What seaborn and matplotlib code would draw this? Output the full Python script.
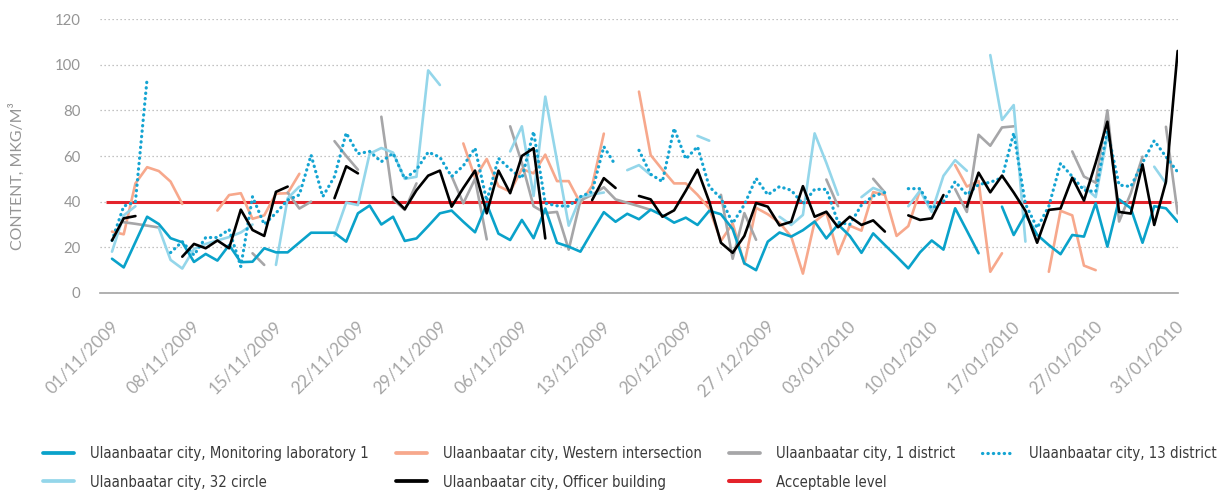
import numpy as np
import pandas as pd
import matplotlib
matplotlib.use("Agg")
import matplotlib.pyplot as plt
import matplotlib.transforms as mtransforms
from matplotlib.lines import Line2D
from matplotlib import font_manager
import seaborn as sns

nan = np.nan

# ---------------- data ----------------
days = pd.date_range("2009-11-01", "2010-01-31", freq="D")   # 92 daily categories
tick_labels = ["01/11/2009", "08/11/2009", "15/11/2009", "22/11/2009", "29/11/2009",
               "06/11/2009", "13/12/2009", "20/12/2009", "27 /12/2009", "03/01/2010",
               "10/01/2010", "17/01/2010", "27/01/2010", "31/01/2010"]
tick_step = 7

lab1 = [15.0, 11.2, 22.3, 33.4, 30.2, 24.0, 22.2, 13.6, 17.1, 14.2,
        21.0, 13.5, 13.7, 19.6, 17.8, 17.8, 22.1, 26.4, 26.4, 26.4,
        22.5, 34.9, 38.3, 30.0, 33.4, 22.8, 23.9, 29.3, 34.9, 36.1,
        31.2, 26.6, 39.0, 26.0, 23.2, 32.0, 24.0, 37.0, 22.0, 20.3,
        18.1, 26.9, 35.4, 31.2, 34.7, 32.3, 36.5, 34.0, 30.8, 33.0,
        29.8, 36.0, 34.5, 28.0, 13.0, 10.0, 22.5, 26.5, 24.7, 27.5,
        31.3, 23.9, 30.0, 25.0, 17.6, 26.1, 21.0, 16.0, 10.8, 17.8,
        23.0, 19.0, 37.1, 27.3, 17.4, nan, 37.8, 25.4, 34.5, 25.5,
        21.0, 17.0, 25.4, 24.7, 39.3, 20.3, 41.0, 37.1, 22.0, 38.0,
        37.1, 31.2]

western = [26.9, 25.7, 48.0, 55.1, 53.4, 48.8, 39.0, nan, nan, 36.1,
           42.9, 43.7, 32.5, 34.0, 43.5, 43.7, 52.2, nan, nan, nan,
           nan, nan, nan, nan, nan, nan, nan, nan, nan, nan,
           65.5, 50.5, 58.7, 46.8, 44.4, 54.3, 52.4, 60.6, 49.0, 49.0,
           39.3, 47.0, 69.8, nan, nan, 88.2, 60.4, 54.0, 48.0, 48.0,
           43.0, 37.0, 22.8, 30.5, 12.7, 37.3, 34.5, 30.8, 24.7, 8.5,
           31.2, 35.3, 17.0, 29.5, 27.3, 44.2, 43.0, 25.0, 29.3, 45.0,
           nan, nan, 56.0, 46.6, 49.0, 9.3, 17.4, nan, nan, nan,
           9.3, 36.0, 34.0, 12.0, 10.0, nan, nan, nan, nan, nan,
           nan, nan]

district1 = [nan, 31.0, 30.3, 29.5, 28.7, nan, nan, nan, nan, nan,
             nan, nan, 17.4, 12.3, nan, 44.0, 37.0, 40.0, nan, 66.5,
             60.0, 54.0, nan, 77.2, 41.0, 36.4, 48.0, nan, nan, 51.2,
             39.3, 50.0, 23.5, nan, 73.0, 57.0, 38.0, 35.0, 35.5, 19.0,
             40.5, 43.0, 46.3, 41.0, 39.5, 38.0, 36.4, nan, nan, nan,
             nan, nan, 43.0, 15.0, 35.0, 23.3, nan, nan, nan, nan,
             nan, 49.7, 38.0, nan, nan, 50.0, 44.0, nan, nan, nan,
             nan, nan, 45.5, 35.5, 69.3, 64.5, 72.5, 73.0, nan, nan,
             nan, nan, 62.0, 51.0, 48.3, 80.0, 31.3, 43.7, 59.7, nan,
             72.8, 34.9]

district13 = [23.0, 38.0, 40.0, 94.0, nan, 17.7, 22.5, 16.6, 24.3, 24.3,
              27.8, 11.6, 42.2, 30.0, 35.0, 40.7, 43.0, 60.4, 42.2, 51.0,
              70.1, 61.0, 62.0, 57.5, 61.2, 50.0, 54.0, 61.7, 59.5, 51.0,
              55.7, 63.5, 40.3, 59.0, 54.2, 50.2, 70.7, 39.3, 38.2, 38.0,
              42.2, 44.4, 64.1, 55.9, nan, 62.5, 52.0, 48.8, 72.1, 58.7,
              64.1, 46.6, 41.5, 30.5, 38.7, 50.2, 43.0, 46.6, 45.0, 39.0,
              45.4, 45.4, 31.0, 30.0, 38.5, 42.5, 44.0, nan, 45.7, 45.7,
              37.0, 40.0, 48.8, 43.0, 47.5, 48.5, 50.5, 70.0, 39.0, 28.5,
              38.0, 56.8, 51.0, 45.0, 44.4, 71.0, 47.3, 46.6, 57.0, 66.7,
              59.7, 53.0]

circle32 = [18.1, 34.0, 38.0, nan, 28.5, 14.5, 10.7, 19.3, 21.5, 23.0,
            24.5, 26.5, 30.0, nan, 12.3, 41.5, 46.6, nan, nan, 25.0,
            39.6, 38.5, 61.0, 63.5, 61.5, 50.0, 50.9, 97.5, 91.1, nan,
            nan, nan, nan, nan, 62.0, 73.0, 42.5, 86.0, 58.0, 29.5,
            42.0, 43.2, 44.0, nan, 53.8, 56.0, 51.7, nan, nan, nan,
            68.8, 66.7, nan, nan, nan, nan, nan, 33.4, 29.8, 34.2,
            69.9, 57.0, 43.0, nan, 42.0, 46.0, 44.0, nan, 38.0, 44.8,
            35.5, 51.3, 58.2, 53.5, nan, 104.2, 75.8, 82.3, 22.5, nan,
            nan, nan, nan, 46.6, 42.0, 69.0, nan, nan, nan, 55.3,
            48.0, nan]

officer = [23.0, 32.7, 33.7, nan, nan, nan, 15.9, 21.5, 19.6, 23.0,
           19.6, 36.5, 27.6, 25.0, 44.3, 46.6, nan, nan, nan, 41.5,
           55.5, 52.4, nan, nan, 42.0, 36.7, 45.0, 51.4, 53.6, 37.8,
           46.0, 53.6, 34.9, 53.6, 43.7, 60.0, 63.4, 23.9, nan, nan,
           nan, 40.7, 50.3, 46.0, nan, 42.5, 41.0, 33.4, 36.2, 44.8,
           54.0, 40.0, 22.0, 17.6, 25.0, 39.4, 37.8, 29.6, 31.2, 46.8,
           33.4, 35.6, 28.8, 33.4, 29.8, 31.8, 26.9, nan, 34.0, 32.0,
           32.7, 42.9, nan, 37.8, 52.7, 44.1, 51.4, 44.0, 36.0, 22.0,
           36.4, 37.0, 50.5, 40.5, 57.0, 75.0, 35.5, 34.8, 56.3, 29.8,
           48.7, 106.0]

acceptable_level = 40

series_names = ["Ulaanbaatar city, Monitoring laboratory 1",
                "Ulaanbaatar city, Western intersection",
                "Ulaanbaatar city, 1 district",
                "Ulaanbaatar city, 13 district",
                "Ulaanbaatar city, 32 circle",
                "Ulaanbaatar city, Officer building"]
acceptable_name = "Acceptable level"

# ---------------- style ----------------
styles = {
    series_names[0]: dict(color="#0aa2ca", lw=1.9, ls="-", z=5),
    series_names[1]: dict(color="#f7a88c", lw=1.9, ls="-", z=3),
    series_names[2]: dict(color="#a6a6a8", lw=1.9, ls="-", z=3.2),
    series_names[3]: dict(color="#14a4d2", lw=2.3, ls=(0, (0.1, 1.6)), z=4),
    series_names[4]: dict(color="#94d6ea", lw=1.9, ls="-", z=3.4),
    series_names[5]: dict(color="#000000", lw=1.9, ls="-", z=6),
}
red = "#e4232b"
grey_txt = "#959595"
date_txt = "#a6a6a6"
legend_txt = "#3a3a3a"

W, H, DPI = 1226, 490, 100
sns.set_theme(style="white")
plt.rcParams["font.family"] = ["Lato", "DejaVu Sans"]

fig = plt.figure(figsize=(W / DPI, H / DPI), dpi=DPI)
ax = fig.add_axes([100 / W, (H - 293) / H, 1078 / W, 274 / H])

renderer = fig.canvas.get_renderer()


def fit_size(text, target_px, **kw):
    t = fig.text(0, 0, text, fontsize=10, **kw)
    w = t.get_window_extent(renderer=renderer).width
    t.remove()
    return 10.0 * target_px / w


names_avail = {f.name for f in font_manager.fontManager.ttflist}
if "Liberation Sans Narrow" in names_avail:
    leg_font = dict(family=["Liberation Sans Narrow", "DejaVu Sans"])
else:
    leg_font = dict(family=["DejaVu Sans"], stretch="condensed")

values = [lab1, western, district1, district13, circle32, officer]
x_index = np.arange(len(days))

for name, vals in zip(series_names, values):
    v = np.asarray(vals, float)
    df = pd.DataFrame({"day": x_index, "value": v, "seg": np.cumsum(np.isnan(v))}).dropna()
    st = styles[name]
    sns.lineplot(data=df, x="day", y="value", units="seg", estimator=None, sort=False,
                 color=st["color"], linewidth=st["lw"], linestyle=st["ls"],
                 dash_capstyle="round", solid_joinstyle="round",
                 ax=ax, legend=False, zorder=st["z"])

ax.hlines(acceptable_level, -0.5, 90.4, color=red, lw=2.2, zorder=2.5)

# axes cosmetics
ax.set_xlim(-1.025, 91.03)
ax.set_ylim(0, 120)
for s in ["top", "right", "left"]:
    ax.spines[s].set_visible(False)
ax.spines["bottom"].set_color("#a3a3a3")
ax.spines["bottom"].set_linewidth(1.2)
ax.set_yticks(np.arange(0, 121, 20))
ax.yaxis.grid(True, linestyle=(0, (1, 2.2)), color="#b0b0b0", lw=0.9)
ax.xaxis.grid(False)
ax.set_axisbelow(True)

tick_pos = x_index[::tick_step]
ax.set_xticks(tick_pos)
date_fs = fit_size("01/11/2009", 96)
ax.set_xticklabels(tick_labels, rotation=45, ha="right", va="top",
                   rotation_mode="anchor", color=date_txt, fontsize=date_fs)
ax.set_xticks(np.linspace(-0.45, 90.84, len(days) + 1), minor=True)
ax.tick_params(axis="x", which="major", length=0, pad=18)
ax.tick_params(axis="x", which="minor", length=4.5, width=0.9, color="#a3a3a3", direction="out")
off = mtransforms.ScaledTranslation(-2 / DPI, 0, fig.dpi_scale_trans)
for lab in ax.get_xticklabels():
    lab.set_transform(lab.get_transform() + off)

ytick_fs = fit_size("120", 26)
ax.tick_params(axis="y", length=0, pad=14, labelsize=ytick_fs, labelcolor=grey_txt)
ax.set_xlabel("")
ylab_fs = fit_size("CONTENT, MKG/M³", 147)
ax.set_ylabel("CONTENT, MKG/M³", color=grey_txt, fontsize=ylab_fs)
ax.yaxis.set_label_coords((25 - 100) / 1078, (293 - 176) / 274)

# legend
handles = []
labels = []
for name in series_names:
    st = styles[name]
    handles.append(Line2D([], [], color=st["color"], lw=st["lw"] + 0.8 if st["ls"] == "-" else st["lw"],
                          linestyle=st["ls"], dash_capstyle="round"))
    labels.append(name)
handles.append(Line2D([], [], color=red, lw=2.9))
labels.append(acceptable_name)

order = [0, 4, 1, 5, 2, 6, 3]
leg_fs = fit_size(series_names[0], 277, **leg_font)
fpx = leg_fs * DPI / 72
leg = fig.legend([handles[i] for i in order], [labels[i] for i in order],
                 ncol=4, loc="upper left", bbox_to_anchor=(43 / W, (H - 446) / H),
                 frameon=False, borderpad=0, borderaxespad=0,
                 handlelength=31 / fpx, handletextpad=16 / fpx,
                 columnspacing=27 / fpx, labelspacing=max(0.05, 31 / fpx - 1.17),
                 prop=dict(size=leg_fs, **leg_font))
for t in leg.get_texts():
    t.set_color(legend_txt)

fig.savefig("out.png", dpi=DPI)
